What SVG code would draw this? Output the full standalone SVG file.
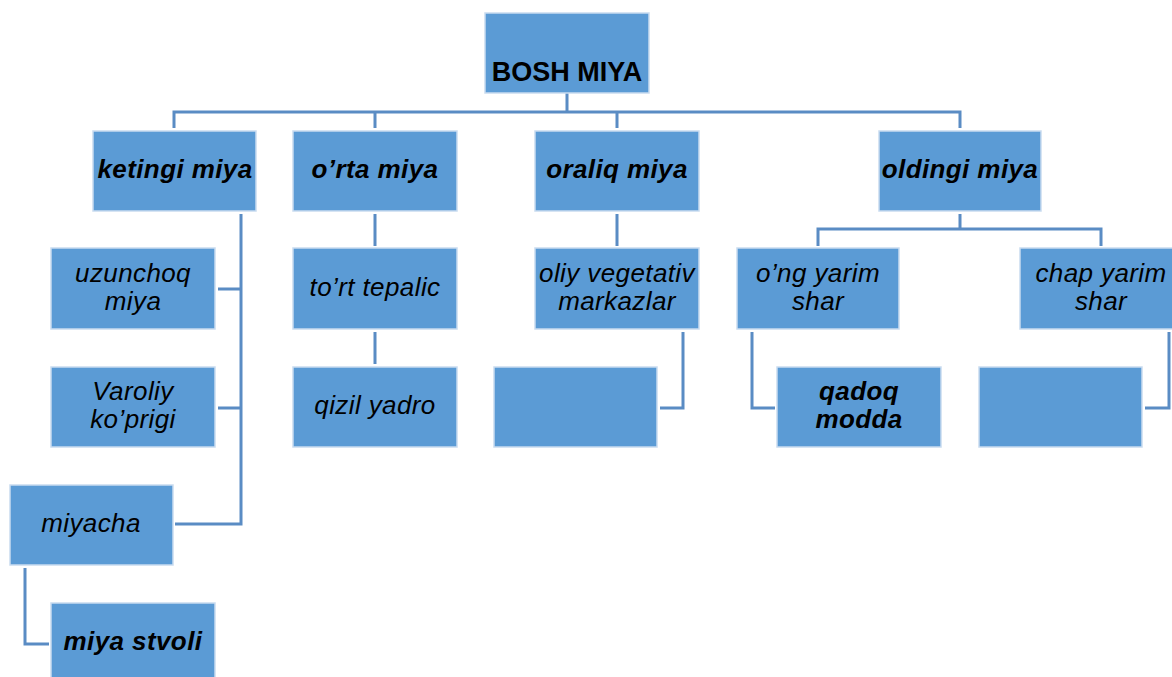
<svg xmlns="http://www.w3.org/2000/svg" width="1172" height="677" viewBox="0 0 1172 677">
<style>
.b{fill:#5B9BD5;stroke:#C9DBEF;stroke-width:1.5}
.c{fill:none;stroke:#5A8CC4;stroke-width:3}
text{font-family:"Liberation Sans",Arial,sans-serif;font-size:26px;fill:#000;text-anchor:middle;font-style:italic;letter-spacing:0.4px}
.t0{font-weight:bold;font-style:normal;font-size:27px;letter-spacing:0}
.t1{font-weight:bold;font-size:26px}
</style>
<rect width="1172" height="677" fill="#fff"/>
<g id="connectors">
<path class="c" d="M567 93V112M174 128V112H960V128M375 112V128M617 112V128"/>
<path class="c" d="M241 214V524H175M218 289H241M218 408H241"/>
<path class="c" d="M25 568V644H49"/>
<path class="c" d="M375 214V246M375 332V364"/>
<path class="c" d="M617 214V246M683 332V408H660"/>
<path class="c" d="M960 214V229M818 246V229H1101V246"/>
<path class="c" d="M752 332V408H775M1169 332V408H1145"/>
</g>
<g id="bosh"><rect class="b" x="485" y="13" width="164" height="80"/><text class="t0" x="567" y="81">BOSH MIYA</text></g>
<g id="ketingi"><rect class="b" x="93" y="131" width="163" height="80"/><text class="t1" x="175" y="178">ketingi miya</text></g>
<g id="orta"><rect class="b" x="293" y="131" width="164" height="80"/><text class="t1" x="375" y="178">o’rta miya</text></g>
<g id="oraliq"><rect class="b" x="535" y="131" width="164" height="80"/><text class="t1" x="617" y="178">oraliq miya</text></g>
<g id="oldingi"><rect class="b" x="879" y="131" width="162" height="80"/><text class="t1" x="960" y="178">oldingi miya</text></g>
<g id="uzunchoq"><rect class="b" x="51" y="248" width="164" height="81"/><text x="133" y="282">uzunchoq</text><text x="133" y="310">miya</text></g>
<g id="tort"><rect class="b" x="293" y="248" width="164" height="81"/><text x="375" y="296">to’rt tepalic</text></g>
<g id="oliy"><rect class="b" x="535" y="248" width="164" height="81"/><text x="617" y="282">oliy vegetativ</text><text x="617" y="310">markazlar</text></g>
<g id="ong"><rect class="b" x="737" y="248" width="162" height="81"/><text x="818" y="282">o’ng yarim</text><text x="818" y="310">shar</text></g>
<g id="chap"><rect class="b" x="1020" y="248" width="163" height="81"/><text x="1101" y="282">chap yarim</text><text x="1101" y="310">shar</text></g>
<g id="varoliy"><rect class="b" x="51" y="367" width="164" height="80"/><text x="133" y="400">Varoliy</text><text x="133" y="428">ko’prigi</text></g>
<g id="qizil"><rect class="b" x="293" y="367" width="164" height="80"/><text x="375" y="414">qizil yadro</text></g>
<g id="blank1"><rect class="b" x="494" y="367" width="163" height="80"/></g>
<g id="qadoq"><rect class="b" x="777" y="367" width="164" height="80"/><text class="t1" x="859" y="400">qadoq</text><text class="t1" x="859" y="428">modda</text></g>
<g id="blank2"><rect class="b" x="979" y="367" width="163" height="80"/></g>
<g id="miyacha"><rect class="b" x="10" y="485" width="163" height="80"/><text x="91" y="532">miyacha</text></g>
<g id="stvoli"><rect class="b" x="51" y="603" width="164" height="80"/><text class="t1" x="133" y="650">miya stvoli</text></g>
</svg>
